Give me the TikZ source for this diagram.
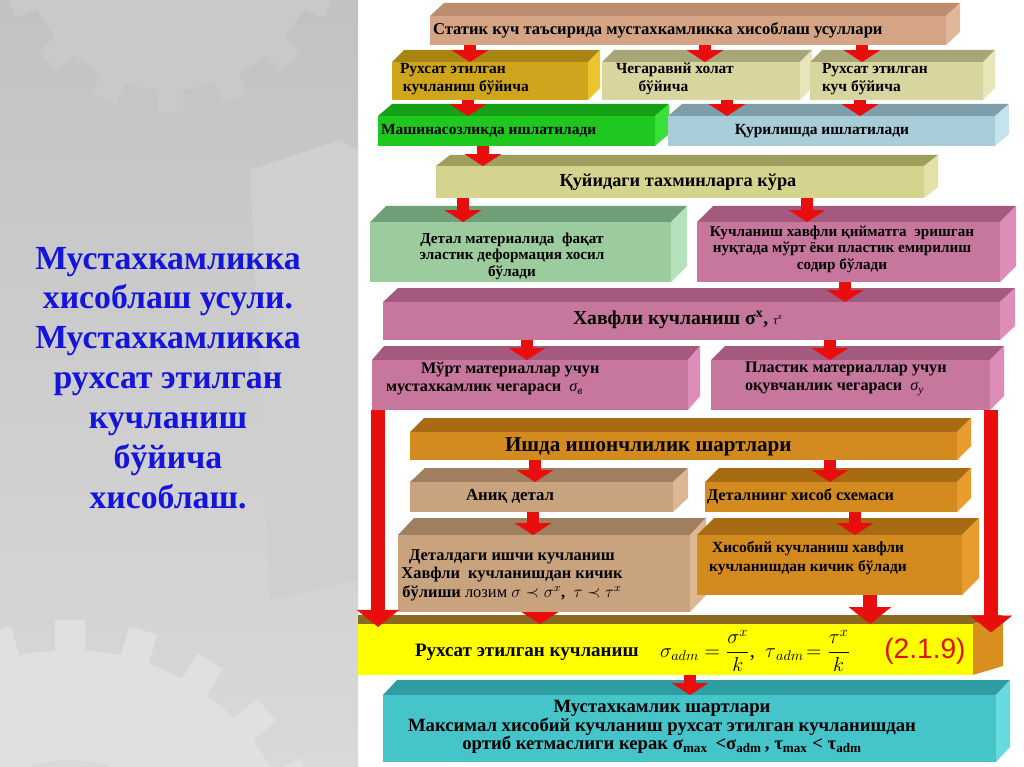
\documentclass[tikz,border=0pt]{standalone}
\usepackage{fontspec}
\setmainfont{Liberation Serif}
\newfontfamily\sansf{Liberation Sans}
\usetikzlibrary{arrows.meta,fit}
\definecolor{tanF}{HTML}{D4A484}\definecolor{tanT}{HTML}{BC8E6E}\definecolor{tanS}{HTML}{E2B698}
\definecolor{goldF}{HTML}{CFA51E}\definecolor{goldT}{HTML}{A88512}\definecolor{goldS}{HTML}{EBC52C}
\definecolor{khakiF}{HTML}{D8D5A0}\definecolor{khakiT}{HTML}{A8A578}\definecolor{khakiS}{HTML}{E8E6B8}
\definecolor{greenF}{HTML}{1EC81E}\definecolor{greenT}{HTML}{16A016}\definecolor{greenS}{HTML}{39E039}
\definecolor{lblueF}{HTML}{A8CDD8}\definecolor{lblueT}{HTML}{7E9FAA}\definecolor{lblueS}{HTML}{C5E3EC}
\definecolor{oliveF}{HTML}{D5D48E}\definecolor{oliveT}{HTML}{A09E5C}\definecolor{oliveS}{HTML}{E3E2A6}
\definecolor{lgreenF}{HTML}{9CCB9E}\definecolor{lgreenT}{HTML}{6F9F78}\definecolor{lgreenS}{HTML}{B4E2BC}
\definecolor{pinkF}{HTML}{C7769E}\definecolor{pinkT}{HTML}{A35A7E}\definecolor{pinkS}{HTML}{DD8DB8}
\definecolor{orangeF}{HTML}{D38A1E}\definecolor{orangeT}{HTML}{A86A12}\definecolor{orangeS}{HTML}{E89C2E}
\definecolor{tantwoF}{HTML}{C9A27E}\definecolor{tantwoT}{HTML}{A07E60}\definecolor{tantwoS}{HTML}{DDB692}
\definecolor{yelF}{HTML}{FFFF00}\definecolor{yelT}{HTML}{8B6A20}\definecolor{yelS}{HTML}{D98F1E}
\definecolor{tealF}{HTML}{45C4C9}\definecolor{tealT}{HTML}{2E9EA3}\definecolor{tealS}{HTML}{66DADE}
\definecolor{arred}{HTML}{E80E0E}
\definecolor{titleblue}{HTML}{1414DC}
\definecolor{eqred}{HTML}{E01010}
\newcommand\boxblock[8]{%
  \fill[#8T] (#2,#3) -- (#2+#6,#3-#7) -- (#4+#6,#3-#7) -- (#4,#3) -- cycle;
  \fill[#8S] (#4,#3) -- (#4+#6,#3-#7) -- (#4+#6,#5-#7) -- (#4,#5) -- cycle;
  \node[fit={(#2,#3)(#4,#5)}, inner sep=0pt, outer sep=0pt, fill=#8F] (#1) {};}
\newcommand\gearshape[6]{%
  \fill[#6] (#1,#2) circle (#3);
  \foreach \k in {1,...,#4}{%
    \fill[#6, rotate around={360/#4*\k:(#1,#2)}] (#1-#3*1.4/#4,#2) rectangle (#1+#3*1.4/#4,#2-#3-#5);
  }}
\tikzset{
  arr/.style={draw=arred, line width=9pt, -{Triangle[width=26pt,length=8.5pt,line width=0.1pt]}},
  bigarr/.style={draw=arred, line width=10pt, -{Triangle[width=30pt,length=12pt,line width=0.1pt]}},
  txt/.style={inner sep=0pt, outer sep=0pt, text=black, font=\bfseries\fontsize{11}{13}\selectfont},
}
\begin{document}
\begin{tikzpicture}[x=0.025cm, y=-0.025cm]
\useasboundingbox (0,0) rectangle (1024,767);
\fill[white] (0,0) rectangle (1024,767);
% left decorative panel
\begin{scope}
  \clip (0,0) rectangle (358,767);
  \shade[top color=black!24, bottom color=black!15] (0,0) rectangle (358,767);
  \gearshape{170}{-60}{150}{16}{22}{black!21}
  \fill[black!19] (250,170) -- (340,140) -- (358,150) -- (358,580) -- (270,600) -- cycle;
  \gearshape{70}{880}{230}{22}{30}{black!12}
  \fill[black!15] (70,880) circle (120);
\end{scope}
\node[inner sep=0pt, align=center, text=titleblue, font=\bfseries\fontsize{24}{28.4}\selectfont] (title) at (168,378)
  {Мустахкамликка\\хисоблаш усули.\\Мустахкамликка\\рухсат этилган\\кучланиш\\бўйича\\хисоблаш.};
% boxes
\boxblock{B1}{430}{16}{946}{45}{14}{13}{tan}
\boxblock{B2a}{392}{62}{588}{100}{12}{12}{gold}
\boxblock{B2b}{602}{62}{800}{100}{12}{12}{khaki}
\boxblock{B2c}{810}{62}{983}{100}{12}{12}{khaki}
\boxblock{B3a}{378}{116}{655}{146}{14}{12}{green}
\boxblock{B3b}{668}{116}{995}{146}{14}{12}{lblue}
\boxblock{B4}{436}{166}{924}{198}{14}{11}{olive}
\boxblock{B5a}{370}{222}{671}{282}{16}{16}{lgreen}
\boxblock{B5b}{697}{222}{1000}{282}{16}{16}{pink}
\boxblock{B6}{383}{302}{1000}{340}{15}{14}{pink}
\boxblock{B7a}{372}{360}{688}{410}{12}{14}{pink}
\boxblock{B7b}{711}{360}{990}{410}{14}{14}{pink}
\boxblock{B8}{410}{432}{957}{460}{14}{14}{orange}
\boxblock{B9a}{410}{482}{673}{512}{15}{14}{tantwo}
\boxblock{B9b}{705}{482}{957}{512}{14}{14}{orange}
\boxblock{B10a}{398}{535}{690}{612}{16}{17}{tantwo}
\boxblock{B10b}{697}{535}{962}{595}{17}{17}{orange}
\fill[yelT] (358,615) -- (1003,615) -- (973,624) -- (358,624) -- cycle;
\fill[yelS] (973,624) -- (1003,615) -- (1003,666) -- (973,675) -- cycle;
\node[fit={(358,624)(973,675)}, inner sep=0pt, outer sep=0pt, fill=yelF] (B11) {};
\boxblock{B12}{383}{695}{996}{762}{14}{15}{teal}
% texts
\node[txt, anchor=west, font=\bfseries\fontsize{11.8}{13}\selectfont] (t1) at (433,30) {Статик куч таъсирида мустахкамликка хисоблаш усуллари};
\node[txt, anchor=west, align=left] (t2a) at (400,79) {Рухсат этилган\\\hspace*{2pt}кучланиш бўйича};
\node[txt, anchor=west, align=left] (t2b) at (616,79) {Чегаравий холат\\\hspace*{16pt}бўйича};
\node[txt, anchor=west, align=left] (t2c) at (822,79) {Рухсат этилган\\куч бўйича};
\node[txt, anchor=west] (t3a) at (381,131) {Машинасозликда ишлатилади};
\node[txt] (t3b) at (822,131) {Қурилишда ишлатилади};
\node[txt, font=\bfseries\fontsize{13}{15}\selectfont] (t4) at (678,182) {Қуйидаги тахминларга кўра};
\node[txt, align=center, font=\bfseries\fontsize{10.8}{11.8}\selectfont] (t5a) at (512,256) {Детал материалида\ \ фақат\\эластик деформация хосил\\бўлади};
\node[txt, align=center, font=\bfseries\fontsize{10.8}{11.8}\selectfont] (t5b) at (842,249) {Кучланиш хавфли қийматга\ \ эришган\\нуқтада мўрт ёки пластик емирилиш\\содир бўлади};
\node[txt, anchor=west, font=\bfseries\fontsize{14}{16}\selectfont] (t6) at (573,320) {Хавфли кучланиш σ\textsuperscript{x}, {\mdseries\itshape\fontsize{9}{10}\selectfont τ\textsuperscript{x}}};
\node[txt, anchor=west, align=left, font=\bfseries\fontsize{11.5}{13}\selectfont] (t7a) at (386,379) {\hspace*{25pt}Мўрт материаллар учун\\мустахкамлик чегараси \ {\mdseries\itshape σ\textsubscript{в}}};
\node[txt, anchor=west, align=left, font=\bfseries\fontsize{11.5}{13}\selectfont] (t7b) at (745,379) {Пластик материаллар учун\\оқувчанлик чегараси \ {\mdseries\itshape σ\textsubscript{y}}};
\node[txt, anchor=west, font=\bfseries\fontsize{15}{17}\selectfont] (t8) at (505,447) {Ишда ишончлилик шартлари};
\node[txt, anchor=west, font=\bfseries\fontsize{12}{13}\selectfont] (t9a) at (466,496) {Аниқ детал};
\node[txt, anchor=west, font=\bfseries\fontsize{11.6}{13}\selectfont] (t9b) at (707,496) {Деталнинг хисоб схемаси};
\node[txt, align=center, font=\bfseries\fontsize{11.7}{13.2}\selectfont] (t10a) at (512,575) {Деталдаги ишчи кучланиш\\Хавфли\ \ кучланишдан кичик\\бўлиши {\mdseries лозим} $\sigma\prec\sigma^x$,\ \ $\tau\prec\tau^x$};
\node[txt, align=center, font=\bfseries\fontsize{11}{13.2}\selectfont] (t10b) at (808,558) {Хисобий кучланиш хавфли\\кучланишдан кичик бўлади};
\node[txt, anchor=west, font=\bfseries\fontsize{13.5}{15}\selectfont] (t11) at (415,652) {Рухсат этилган кучланиш};
\node[txt, anchor=west, font=\fontsize{14.5}{16}\selectfont] (f11) at (660,651) {$\displaystyle\sigma_{adm}=\frac{\sigma^{x}}{k}$,\ \ $\displaystyle\tau_{\,adm}\!=\frac{\tau^{x}}{k}$};
\node[inner sep=0pt, anchor=west, text=eqred, font=\sansf\fontsize{20}{22}\selectfont] (n11) at (884,651) {(2.1.9)};
\node[txt, align=center, font=\bfseries\fontsize{13.3}{13.2}\selectfont] (t12) at (662,727) {Мустахкамлик шартлари\\Максимал хисобий кучланиш рухсат этилган кучланишдан\\ортиб кетмаслиги керак σ\textsubscript{max}\ \,<σ\textsubscript{adm}\,, τ\textsubscript{max} < τ\textsubscript{adm}};
% arrows
\draw[arr] (B1.south -| 470,0) -- (B2a.north -| 470,0);
\draw[arr] (B1.south -| 705,0) -- (B2b.north -| 705,0);
\draw[arr] (B1.south -| 862,0) -- (B2c.north -| 862,0);
\draw[arr] (B2a.south -| 468,0) -- (B3a.north -| 468,0);
\draw[arr] (B2b.south -| 727,0) -- (B3b.north -| 727,0);
\draw[arr] (B2c.south -| 860,0) -- (B3b.north -| 860,0);
\draw[arr] (B3a.south -| 483,0) -- (B4.north -| 483,0);
\draw[arr] (B4.south -| 463,0) -- (B5a.north -| 463,0);
\draw[arr] (B4.south -| 807,0) -- (B5b.north -| 807,0);
\draw[arr] (B5b.south -| 845,0) -- (B6.north -| 845,0);
\draw[arr] (B6.south -| 527,0) -- (B7a.north -| 527,0);
\draw[arr] (B6.south -| 830,0) -- (B7b.north -| 830,0);
\draw[arr] (B8.south -| 535,0) -- (B9a.north -| 535,0);
\draw[arr] (B8.south -| 830,0) -- (B9b.north -| 830,0);
\draw[arr] (B9a.south -| 533,0) -- (B10a.north -| 533,0);
\draw[arr] (B9b.south -| 855,0) -- (B10b.north -| 855,0);
\draw[arr] (B10a.south -| 540,0) -- (B11.north -| 540,0);
\draw[bigarr] (B10b.south -| 870,0) -- (B11.north -| 870,0);
\draw[arr] (B11.south -| 690,0) -- (B12.north -| 690,0);
\draw[bigarr] (B7a.south -| 378,0) -- ([yshift=-2pt]B11.north -| 378,0);
\draw[bigarr] (B7b.south -| 991,0) -- ([yshift=-6pt]B11.north -| 991,0);
\end{tikzpicture}
\end{document}
